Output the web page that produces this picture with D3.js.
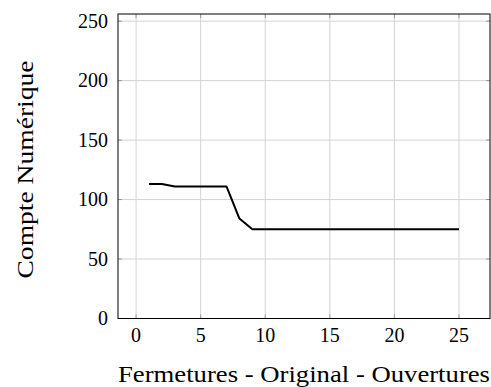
<!DOCTYPE html>
<html>
<head>
<meta charset="utf-8">
<script src="https://cdn.jsdelivr.net/npm/d3@7"></script>
<style>
body { margin: 0; background: #fff; }
text { font-family: "Liberation Serif", "DejaVu Serif", serif; fill: #000; }
</style>
</head>
<body>
<svg id="chart" width="491" height="387"></svg>
<script>
// data
var xs = [1, 2, 3, 4, 5, 6, 7, 8, 9, 10, 11, 12, 13, 14, 15, 16, 17, 18, 19, 20, 21, 22, 23, 24, 25];
var counts = [113, 113, 111, 111, 111, 111, 111, 84, 75, 75, 75, 75, 75, 75, 75, 75, 75, 75, 75, 75, 75, 75, 75, 75, 75];
var xTicks = [0, 5, 10, 15, 20, 25];
var yTicks = [0, 50, 100, 150, 200, 250];
var xLabel = "Fermetures - Original - Ouvertures";
var yLabel = "Compte Numérique";

var svg = d3.select("#chart"),
    plotLeft = 118, plotRight = 490, plotTop = 14, plotBottom = 318.5,
    tickLen = 4;

var x = d3.scaleLinear().domain([-1.4, 27.4]).range([plotLeft, plotRight]);
var y = d3.scaleLinear().domain([0, 256]).range([plotBottom, plotTop]);

var g = svg.append("g");

// grid
g.selectAll("line.vgrid").data(xTicks).enter().append("line")
    .attr("x1", function(d) { return x(d); }).attr("x2", function(d) { return x(d); })
    .attr("y1", plotTop).attr("y2", plotBottom)
    .attr("stroke", "#d3d3d3").attr("stroke-width", 1);
g.selectAll("line.hgrid").data(yTicks).enter().append("line")
    .attr("y1", function(d) { return y(d); }).attr("y2", function(d) { return y(d); })
    .attr("x1", plotLeft).attr("x2", plotRight)
    .attr("stroke", "#d3d3d3").attr("stroke-width", 1);

// inner tick marks
xTicks.forEach(function(d) {
    g.append("line").attr("x1", x(d)).attr("x2", x(d)).attr("y1", plotBottom).attr("y2", plotBottom - tickLen)
        .attr("stroke", "#999").attr("stroke-width", 1);
    g.append("line").attr("x1", x(d)).attr("x2", x(d)).attr("y1", plotTop).attr("y2", plotTop + tickLen)
        .attr("stroke", "#999").attr("stroke-width", 1);
});
yTicks.forEach(function(d) {
    g.append("line").attr("y1", y(d)).attr("y2", y(d)).attr("x1", plotLeft).attr("x2", plotLeft + tickLen)
        .attr("stroke", "#999").attr("stroke-width", 1);
    g.append("line").attr("y1", y(d)).attr("y2", y(d)).attr("x1", plotRight).attr("x2", plotRight - tickLen)
        .attr("stroke", "#999").attr("stroke-width", 1);
});

// data line
var line = d3.line()
    .x(function(d, i) { return x(xs[i]); })
    .y(function(d) { return y(d); });
g.append("path")
    .datum(counts)
    .attr("d", line)
    .attr("fill", "none")
    .attr("stroke", "#000")
    .attr("stroke-width", 2)
    .attr("stroke-linejoin", "round");

// frame
g.append("rect")
    .attr("x", plotLeft).attr("y", plotTop)
    .attr("width", plotRight - plotLeft).attr("height", plotBottom - plotTop)
    .attr("fill", "none").attr("stroke", "#000").attr("stroke-width", 1);

// tick labels
g.selectAll("text.xt").data(xTicks).enter().append("text")
    .attr("x", function(d) { return x(d); })
    .attr("y", 342)
    .attr("text-anchor", "middle")
    .style("font-size", "20px")
    .text(function(d) { return d; });
g.selectAll("text.yt").data(yTicks).enter().append("text")
    .attr("x", 108)
    .attr("y", function(d) { return y(d) + 6.6; })
    .attr("text-anchor", "end")
    .style("font-size", "20px")
    .text(function(d) { return d; });

// axis titles, stretched to the width of the original serif face
svg.append("text")
    .attr("x", (plotLeft + plotRight) / 2)
    .attr("y", 382)
    .attr("text-anchor", "middle")
    .attr("textLength", 372)
    .attr("lengthAdjust", "spacingAndGlyphs")
    .style("font-size", "23px")
    .text(xLabel);

svg.append("text")
    .attr("transform", "translate(33,169.5) rotate(-90)")
    .attr("text-anchor", "middle")
    .attr("textLength", 218)
    .attr("lengthAdjust", "spacingAndGlyphs")
    .style("font-size", "23px")
    .text(yLabel);
</script>
</body>
</html>
